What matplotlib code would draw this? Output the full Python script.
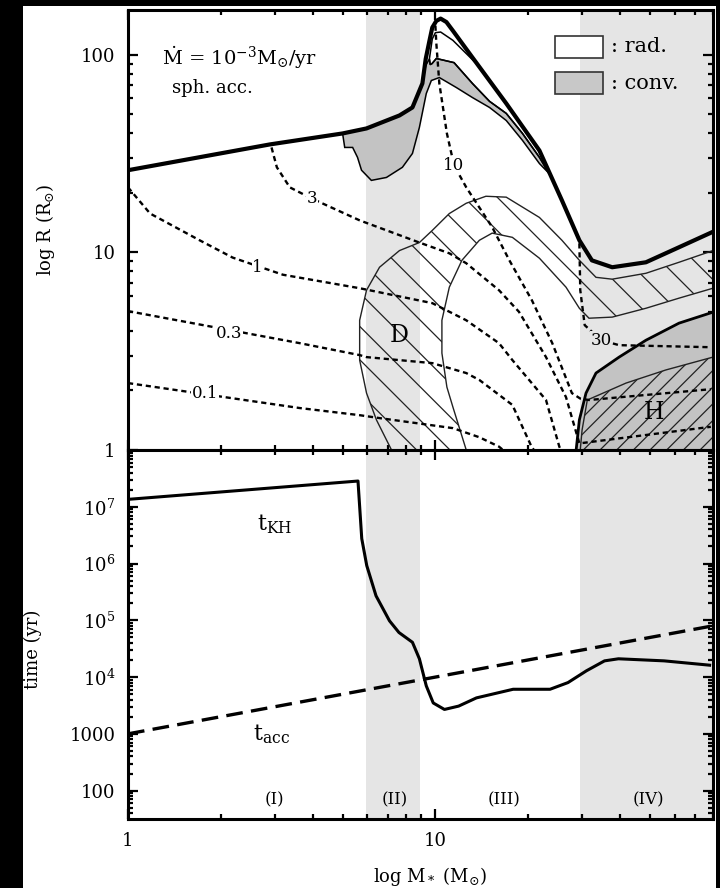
import numpy as np
import matplotlib
matplotlib.use("Agg")
import matplotlib.pyplot as plt
from matplotlib.patches import Polygon, Rectangle
from matplotlib.ticker import FixedLocator, FixedFormatter, LogLocator, NullFormatter

plt.rcParams['font.family'] = ['DejaVu Serif']
plt.rcParams['mathtext.fontset'] = 'dejavuserif'
plt.rcParams['hatch.linewidth'] = 0.9

# ---- stellar radius (thick line), M in Msun, R in Rsun
m_star = [1.0, 2.89, 4.99, 5.97, 7.64, 8.42, 9.07, 9.3, 9.56, 9.77, 10.07, 10.4, 10.86, 11.4, 13.2, 17.0, 21.8, 25.8, 29.4, 32.3, 37.6, 48.4, 62.0, 80.0]
r_star = [26.0, 35.1, 39.9, 42.3, 49.2, 54.0, 71.4, 95.0, 117.0, 137.0, 148.0, 152.0, 146.0, 132.0, 96.6, 56.6, 32.7, 18.3, 11.5, 9.1, 8.4, 8.9, 10.6, 12.7]

# thin line bounding radiative loop near the peak (inner edge, hook, shell top)
m_loop = [13.4, 11.4, 10.4, 10.0, 9.77, 9.56, 9.62, 9.75, 10.07, 11.5, 13.2, 15.0, 17.0, 19.2, 21.8, 23.4]
r_loop = [92.0, 118.0, 130.0, 129.0, 120.0, 95.0, 89.0, 90.0, 95.5, 91.0, 71.4, 58.0, 50.4, 39.9, 30.2, 25.1]

# convective zone (grey)
m_conv = [4.99, 5.97, 7.64, 8.42, 9.07, 9.3, 9.56, 9.62, 9.75, 10.07, 11.5, 13.2, 15.0, 17.0, 19.2, 21.8, 23.4,
          21.8, 19.2, 17.0, 15.0, 13.2, 11.7, 10.3, 9.70, 9.34, 8.87, 8.42, 7.81, 6.93, 6.19, 5.75, 5.58, 5.38, 5.07]
r_conv = [39.9, 42.3, 49.2, 54.0, 71.4, 88.0, 95.0, 89.0, 90.0, 95.5, 91.0, 71.4, 58.0, 50.4, 39.9, 30.2, 25.1,
          28.1, 36.8, 46.4, 54.0, 60.6, 68.1, 76.5, 73.9, 63.5, 42.8, 31.6, 26.9, 23.9, 23.1, 26.0, 30.2, 33.9, 33.9]

# deuterium burning region: outer edge, then inner edge back
m_d_out = [7.20, 6.43, 5.97, 5.67, 5.67, 5.97, 6.58, 7.64, 8.87, 9.77, 11.1, 12.6, 14.6, 17.0, 21.8, 25.8, 29.4, 33.3, 37.6, 48.4, 62.0, 80.0]
r_d_out = [1.0, 1.42, 1.94, 2.85, 4.53, 6.43, 8.40, 10.2, 11.2, 12.9, 15.7, 17.7, 19.2, 19.0, 15.0, 11.5, 9.11, 7.47, 7.31, 7.83, 8.90, 10.2]
m_d_in = [80.0, 62.0, 48.4, 37.6, 31.6, 29.4, 26.6, 21.8, 17.8, 15.3, 13.9, 12.2, 11.1, 10.5, 10.5, 10.9, 11.4, 12.6]
r_d_in = [6.58, 5.86, 5.21, 4.70, 4.64, 5.21, 6.66, 9.33, 11.9, 12.5, 11.5, 9.11, 6.66, 4.53, 3.09, 2.08, 1.65, 1.0]

# hydrogen burning: convective core edge and burning region edge
m_h = [28.7, 29.4, 30.9, 33.3, 39.6, 48.4, 62.0, 80.0]
r_h = [1.0, 1.42, 1.94, 2.45, 2.95, 3.59, 4.38, 4.98]
m_hb = [29.6, 30.0, 31.2, 41.7, 56.2, 80.0]
r_hb = [1.0, 1.26, 1.79, 2.18, 2.54, 2.95]

# mass coordinate contours (M_r = 0.1, 0.3, 1, 3, 10, 30 Msun)
m_c01 = [1.0, 3.62, 5.67, 6.58, 11.4, 13.9, 16.1, 17.0]
r_c01 = [2.18, 1.63, 1.50, 1.45, 1.29, 1.16, 1.04, 0.97]
m_c03 = [1.0, 3.62, 5.67, 5.97, 9.77, 12.6, 13.9, 17.8, 20.6, 21.5]
r_c03 = [5.04, 3.47, 3.02, 2.95, 2.75, 2.45, 2.26, 1.69, 1.03, 0.95]
m_c1 = [1.0, 1.18, 1.71, 2.19, 3.19, 5.67, 9.77, 12.6, 16.1, 17.8, 22.9, 25.3, 26.0]
r_c1 = [21.3, 15.7, 11.5, 9.4, 7.7, 6.58, 5.53, 4.53, 3.47, 2.85, 1.79, 1.04, 0.95]
m_c3 = [2.93, 3.05, 3.36, 3.96, 5.67, 8.87, 11.1, 12.6, 16.1, 18.7, 22.9, 26.6, 29.4, 78.7]
r_c3 = [33.9, 26.9, 21.3, 18.7, 14.5, 11.2, 9.88, 8.80, 6.43, 5.0, 2.95, 1.85, 1.08, 1.31]
m_c10 = [10.0, 10.07, 10.3, 10.9, 11.5, 12.6, 15.3, 17.4, 20.6, 24.0, 27.8, 29.6, 31.6, 78.7]
r_c10 = [140.0, 114.0, 71.4, 39.9, 27.5, 21.3, 13.4, 9.11, 5.72, 3.47, 1.94, 1.82, 1.79, 2.03]
m_c30 = [29.4, 29.6, 30.6, 34.6, 39.6, 78.7]
r_c30 = [11.1, 6.43, 4.28, 3.59, 3.39, 3.31]

contour_labels = ['0.1', '0.3', '1', '3', '10', '30']
label_m = [1.78, 2.14, 2.64, 3.96, 11.5, 34.6]
label_r = [1.92, 3.9, 8.4, 18.7, 27.5, 3.59]

# time scales
m_kh = [1.0, 5.6, 5.76, 5.98, 6.41, 7.09, 7.61, 8.42, 8.87, 9.34, 9.84, 10.7, 11.9, 13.6, 17.9, 23.6, 27.0, 31.0, 35.5, 39.4, 55.5, 78.0]
t_kh = [1.35e7, 2.84e7, 2.75e6, 9.2e5, 2.7e5, 9.8e4, 6.1e4, 4.1e4, 2.1e4, 7.0e3, 3.5e3, 2.69e3, 3.08e3, 4.3e3, 6.1e3, 6.1e3, 8.0e3, 1.29e4, 1.93e4, 2.1e4, 1.93e4, 1.62e4]
m_acc = [1.0, 10.0, 80.0]
t_acc = [1.0e3, 1.0e4, 8.0e4]

# phases
phase_names = ['(I)', '(II)', '(III)', '(IV)']
phase_pos = [3.0, 7.36, 16.7, 49.4]
band2 = (5.95, 8.9)
band4 = (29.5, 80.0)

band_col = '#e5e5e5'
conv_col = '#c3c3c3'

fig = plt.figure(figsize=(7.2, 8.88), dpi=100)
fig.patch.set_facecolor('black')
fig.add_artist(Rectangle((23/720, 0), 693/720, 882/888, transform=fig.transFigure,
                         facecolor='white', edgecolor='none', zorder=-1))

ax1 = fig.add_axes([128/720, 1-450/888, 585/720, 440/888])
ax2 = fig.add_axes([128/720, 1-819/888, 585/720, 369/888])

for ax in (ax1, ax2):
    ax.set_xscale('log')
    ax.set_yscale('log')
    ax.set_xlim(1, 80)
    ax.axvspan(*band2, color=band_col, lw=0, zorder=0)
    ax.axvspan(*band4, color=band_col, lw=0, zorder=0)
    for s in ax.spines.values():
        s.set_linewidth(2.2)
    ax.tick_params(which='both', direction='in', top=True, right=True, width=1.6)
    ax.tick_params(which='major', length=7, labelsize=13, pad=9)
    ax.tick_params(which='minor', length=3.5)
    ax.xaxis.set_major_locator(FixedLocator([1, 10]))
    ax.xaxis.set_minor_locator(LogLocator(base=10, subs=np.arange(2, 10)))
    ax.xaxis.set_minor_formatter(NullFormatter())
    ax.yaxis.set_minor_formatter(NullFormatter())

# ---------------- upper panel
ax1.set_ylim(1, 168)

# D burning region (hatched, no fill)
d_poly = Polygon(np.column_stack([m_d_out + m_d_in, r_d_out + r_d_in]), closed=True,
                 fill=False, edgecolor='#222222', lw=1.0, hatch='\\', zorder=2)
ax1.add_patch(d_poly)

# H burning region
ax1.fill_between(m_h, r_h, 1, facecolor=conv_col, edgecolor='none', zorder=2)
h_poly = Polygon(np.column_stack([m_hb + [80.0], r_hb + [1.0]]), closed=True,
                 fill=False, edgecolor='#222222', lw=1.0, hatch='//', zorder=2.1)
ax1.add_patch(h_poly)
ax1.plot(m_h, r_h, color='black', lw=2.0, zorder=3)

# convective envelope / shell
conv_poly = Polygon(np.column_stack([m_conv, r_conv]), closed=True,
                    facecolor=conv_col, edgecolor='black', lw=1.1, zorder=2)
ax1.add_patch(conv_poly)
ax1.plot(m_loop, r_loop, color='black', lw=1.1, zorder=3)

# mass contours
dot = (0, (2.2, 1.6))
for mm, rr in [(m_c01, r_c01), (m_c03, r_c03), (m_c1, r_c1), (m_c3, r_c3),
               (m_c10, r_c10), (m_c30, r_c30)]:
    ax1.plot(mm, rr, color='black', lw=1.7, ls=dot, zorder=3.5)
for txt, mm, rr in zip(contour_labels, label_m, label_r):
    fc = band_col if band4[0] < mm < band4[1] else 'white'
    ax1.text(mm, rr, txt, fontsize=12, ha='center', va='center', zorder=4,
             bbox=dict(facecolor=fc, edgecolor='none', pad=0.4))

# stellar radius
ax1.plot(m_star, r_star, color='black', lw=3.0, zorder=4, solid_joinstyle='round')

ax1.text(7.64, 3.81, 'D', fontsize=17, ha='center', va='center', zorder=5)
ax1.text(51.4, 1.54, 'H', fontsize=17, ha='center', va='center', zorder=5)

ax1.text(0.058, 0.892, r'$\dot{\mathrm{M}}$ = 10$^{-3}$M$_{\odot}$/yr', transform=ax1.transAxes,
         fontsize=14, ha='left', va='center')
ax1.text(0.075, 0.822, 'sph. acc.', transform=ax1.transAxes, fontsize=13, ha='left', va='center')

# legend boxes
ax1.add_patch(Rectangle((0.730, 0.892), 0.082, 0.050, transform=ax1.transAxes,
                        facecolor='white', edgecolor='#333333', lw=1.2, zorder=5))
ax1.add_patch(Rectangle((0.730, 0.810), 0.082, 0.048, transform=ax1.transAxes,
                        facecolor='#c8c8c8', edgecolor='#333333', lw=1.2, zorder=5))
ax1.text(0.825, 0.917, ': rad.', transform=ax1.transAxes, fontsize=15, ha='left', va='center', zorder=5)
ax1.text(0.825, 0.834, ': conv.', transform=ax1.transAxes, fontsize=15, ha='left', va='center', zorder=5)

ax1.yaxis.set_major_locator(FixedLocator([1, 10, 100]))
ax1.yaxis.set_major_formatter(FixedFormatter(['1', '10', '100']))
ax1.yaxis.set_minor_locator(LogLocator(base=10, subs=np.arange(2, 10)))
ax1.tick_params(axis='x', labelbottom=False)
ax1.set_ylabel(r'log R (R$_{\odot}$)', fontsize=13)
ax1.yaxis.set_label_coords(-0.121, 0.5)

# ---------------- lower panel
ax2.set_ylim(10**1.5, 1e8)
ax2.plot(m_kh, t_kh, color='black', lw=2.2, zorder=3)
ax2.plot(m_acc, t_acc, color='black', lw=2.4, ls=(0, (5, 2.5)), zorder=3)
ax2.text(2.99, 5e6, r't$_{\mathrm{KH}}$', fontsize=16, ha='center', va='center')
ax2.text(2.93, 980, r't$_{\mathrm{acc}}$', fontsize=16, ha='center', va='center')
for txt, mm in zip(phase_names, phase_pos):
    ax2.text(mm, 0.052, txt, transform=ax2.get_xaxis_transform(), fontsize=12,
             ha='center', va='center')

ax2.yaxis.set_major_locator(FixedLocator([1e2, 1e3, 1e4, 1e5, 1e6, 1e7]))
ax2.yaxis.set_major_formatter(FixedFormatter(['100', '1000', r'10$^4$', r'10$^5$', r'10$^6$', r'10$^7$']))
ax2.yaxis.set_minor_locator(LogLocator(base=10, subs=np.arange(2, 10)))
ax2.xaxis.set_major_formatter(FixedFormatter(['1', '10']))
ax2.set_ylabel('time (yr)', fontsize=13)
ax2.yaxis.set_label_coords(-0.147, 0.46)
ax2.set_xlabel(r'log M$_*$ (M$_{\odot}$)', fontsize=13)
ax2.xaxis.set_label_coords(0.516, -0.125)

fig.savefig('out.png', dpi=100, facecolor=fig.get_facecolor())
